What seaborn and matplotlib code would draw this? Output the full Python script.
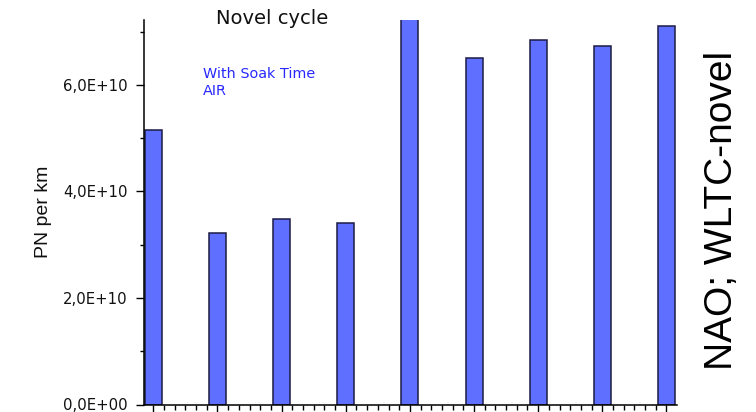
import matplotlib
matplotlib.use("Agg")
import matplotlib.pyplot as plt
from matplotlib.ticker import MultipleLocator, FuncFormatter
import seaborn as sns
import pandas as pd

# Particle number per km for each test run of the novel cycle
runs = ["1", "2", "3", "4", "5", "6", "7", "8", "9"]
pn_per_km = [5.16e10, 3.22e10, 3.48e10, 3.41e10, 7.5e10, 6.50e10, 6.84e10, 6.73e10, 7.11e10]
y_ticks = [0, 2e10, 4e10, 6e10]

df = pd.DataFrame({"run": runs, "pn": pn_per_km})

sns.set_theme(style="white")
plt.rcParams["font.family"] = ["DejaVu Sans"]

fig = plt.figure(figsize=(7.56, 4.12), dpi=100)
ax = fig.add_axes([144 / 756, 7.5 / 412, 533 / 756, 384.5 / 412])

sns.barplot(data=df, x="run", y="pn", ax=ax, color="#5F6FFF", saturation=1,
            width=0.265, edgecolor="#1c1c44", linewidth=1.1, errorbar=None)

ax.set_xlim(-0.145, 8.164)
ax.set_ylim(0, 7.22e10)
ax.set_xlabel("")
ax.set_ylabel("")

for side in ("top", "right"):
    ax.spines[side].set_visible(False)
for side in ("left", "bottom"):
    ax.spines[side].set_color("black")
    ax.spines[side].set_linewidth(1.1)

ax.set_yticks(y_ticks)
ax.yaxis.set_minor_locator(MultipleLocator(1e10))
ax.yaxis.set_major_formatter(
    FuncFormatter(lambda v, p: ("%.1E" % v).replace(".", ",")))
ax.xaxis.set_minor_locator(MultipleLocator(1 / 6))
ax.set_xticklabels([])

ax.tick_params(axis="y", which="major", direction="out", length=6, width=1,
               color="black", left=True, labelsize=10.7, pad=6, labelcolor="#111111")
ax.tick_params(axis="y", which="minor", direction="out", length=3, width=1,
               color="black", left=True)
ax.tick_params(axis="x", which="major", direction="out", length=5.5, width=1,
               color="black", bottom=True)
ax.tick_params(axis="x", which="minor", direction="out", length=3.6, width=1,
               color="black", bottom=True)

fig.text(272 / 756, 1 - 19 / 412, "Novel cycle", ha="center", va="center",
         fontsize=14, color="#111111")
fig.text(203 / 756, 1 - 74 / 412, "With Soak Time", ha="left", va="center",
         fontsize=10.4, color="#2828FF")
fig.text(203 / 756, 1 - 91 / 412, "AIR", ha="left", va="center",
         fontsize=10.4, color="#2828FF")
fig.text(44 / 756, 1 - 212 / 412, "PN per km", rotation=90, ha="center",
         va="center", fontsize=14, fontfamily="Liberation Sans",
         color="#111111")
fig.text(722 / 756, 1 - 210 / 412, "NAO; WLTC-novel", rotation=90, ha="center",
         va="center", fontsize=28, fontfamily="Liberation Sans",
         color="black")

fig.savefig("out.png", dpi=100, facecolor="white")
